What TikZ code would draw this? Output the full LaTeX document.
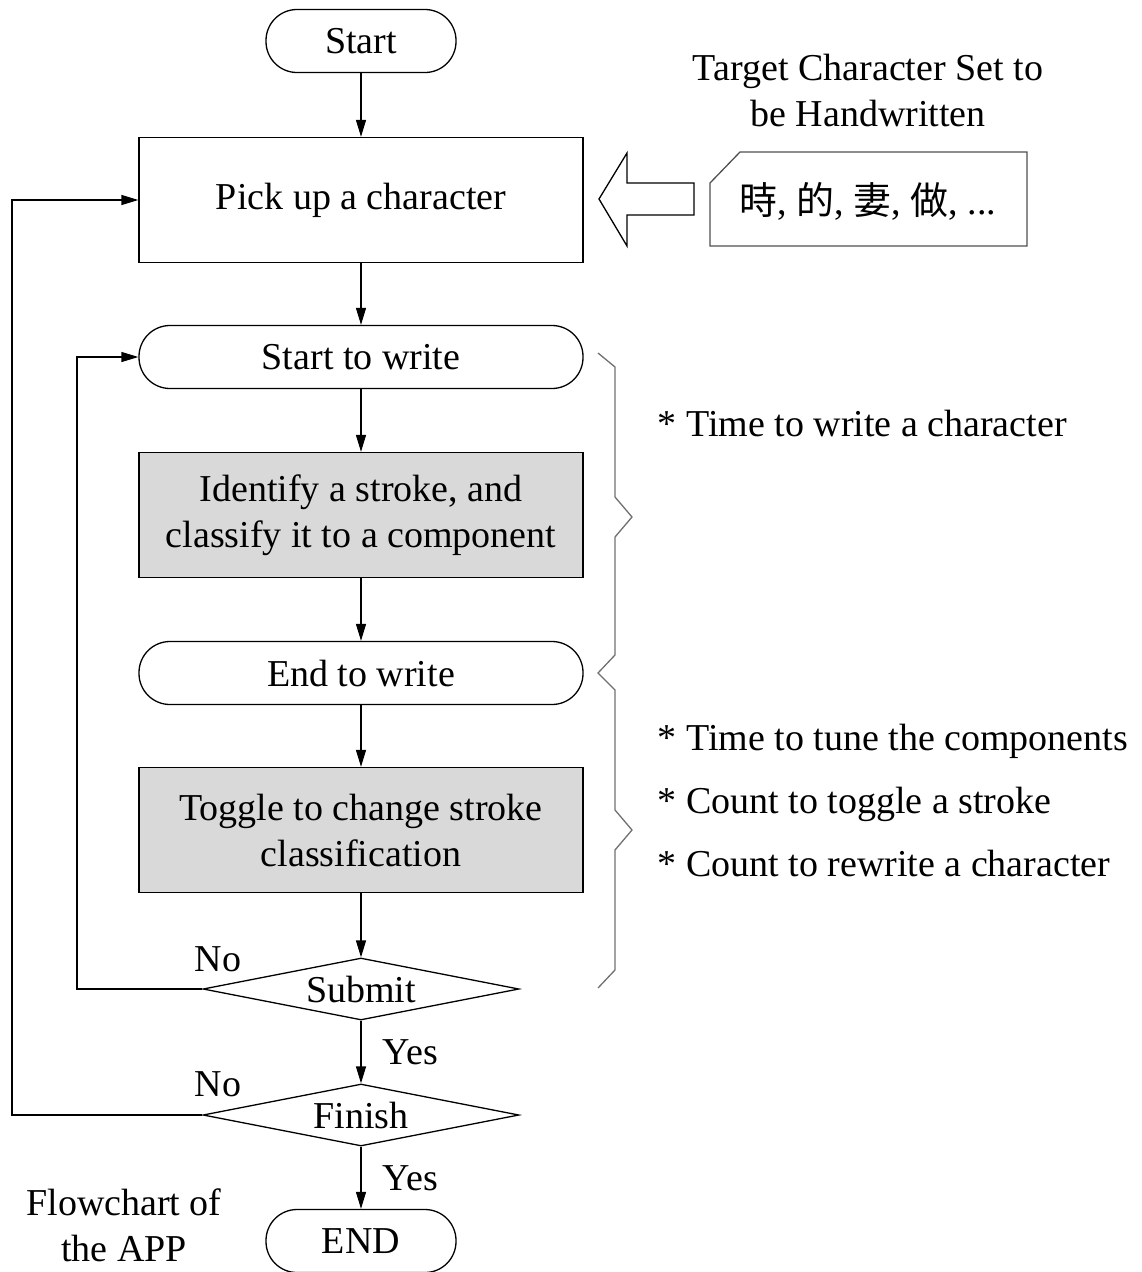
\documentclass[tikz,border=0pt]{standalone}
\usepackage{fontspec}
\setmainfont{Liberation Serif}
\newfontfamily\cjk{Noto Sans CJK TC}
\usetikzlibrary{arrows.meta,shapes.geometric}
\definecolor{boxgray}{HTML}{D9D9D9}
\definecolor{bracegray}{HTML}{707070}
\definecolor{cardgray}{HTML}{505050}
\begin{document}
\begin{tikzpicture}[x=1pt,y=-1pt,
 font=\fontsize{38}{46}\selectfont,
 line width=1.3pt,
 pill/.style={draw, rectangle, rounded corners=31pt, minimum height=63pt, inner sep=0pt},
 box/.style={draw, rectangle, minimum width=444pt, minimum height=125pt, inner sep=0pt, align=center},
 shaded/.style={box, fill=boxgray},
 dia/.style={draw, diamond, aspect=5.1, minimum width=316pt, minimum height=62pt, inner sep=0pt},
 flow/.style={-{Triangle[length=17pt,width=10pt]}},
 note/.style={anchor=base west, inner sep=0pt},
 lab/.style={inner sep=0pt},
]
\useasboundingbox (0,0) rectangle (1142,1272);

% main flow nodes
\node[pill, minimum width=190pt] (start) at (361,41) {Start};
\node[box] (pick) at (361,200) {Pick up a character};
\node[pill, minimum width=444pt] (sw) at (361,357) {Start to write};
\node[shaded] (id) at (361,515) {Identify a stroke, and\\classify it to a component};
\node[pill, minimum width=444pt] (ew) at (361,673) {End to write};
\node[shaded] (tog) at (361,830) {Toggle to change stroke\\classification};
\node[dia, label=center:Submit] (sub) at (361,989) {};
\node[dia, label=center:Finish] (fin) at (361,1115) {};
\node[pill, minimum width=190pt] (end) at (361,1241) {END};

% connectors
\draw[flow] (start) -- (pick);
\draw[flow] (pick) -- (sw);
\draw[flow] (sw) -- (id);
\draw[flow] (id) -- (ew);
\draw[flow] (ew) -- (tog);
\draw[flow] (tog) -- (sub);
\draw[flow] (sub) -- node[lab, anchor=west, xshift=21pt]{Yes} (fin);
\draw[flow] (fin) -- node[lab, anchor=west, xshift=21pt]{Yes} (end);

\coordinate (l1) at (77,989);
\coordinate (l2) at (12,1115);
\draw[flow] (sub.west) -- (l1) |- (sw.west);
\draw[flow] (fin.west) -- (l2) |- (pick.west);
\node[lab] (no1) at (218,959) {No};
\node[lab] (no2) at (218,1084) {No};

% input character set
\node[lab, align=center] (title) at (868,90) {Target Character Set to\\be Handwritten};
\draw[cardgray] (740,152) -- (1027,152) -- (1027,246) -- (710,246) -- (710,183) -- cycle;
\node[lab] (chars) at (868,201) {{\cjk 時}, {\cjk 的}, {\cjk 妻}, {\cjk 做}, ...};
\draw (599,199) -- (627,153) -- (627,183) -- (694,183) -- (694,215) -- (627,215) -- (627,246) -- cycle;

% braces
\draw[bracegray] (598,353) -- (615,367) -- (615,497) -- (632,517) -- (615,537) -- (615,655) -- (598,673)
  -- (615,690) -- (615,810) -- (632,830) -- (615,850) -- (615,970) -- (598,988);

% notes
\node[note] (n1) at (657,436) {* Time to write a character};
\node[note] (n2) at (657,750) {* Time to tune the components};
\node[note] (n3) at (657,813) {* Count to toggle a stroke};
\node[note] (n4) at (657,876) {* Count to rewrite a character};

\node[lab, align=center] (cap) at (124,1225) {Flowchart of\\the APP};
\end{tikzpicture}
\end{document}
